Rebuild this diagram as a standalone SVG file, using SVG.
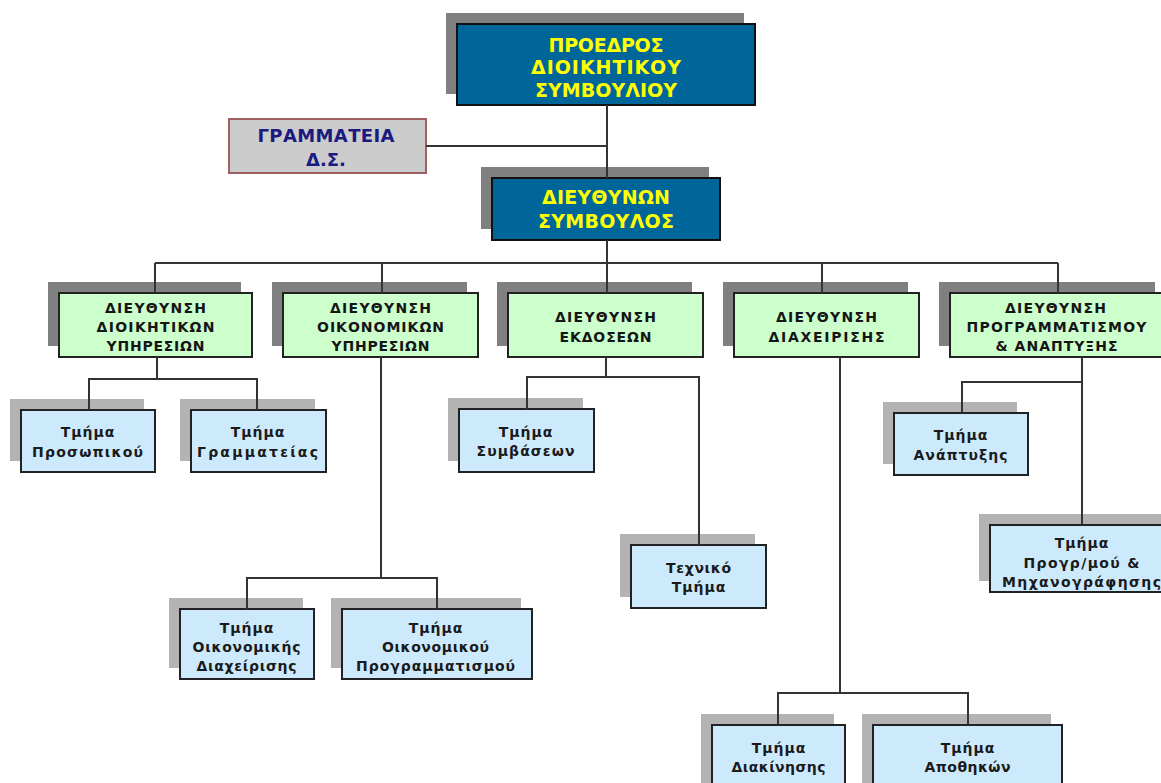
<svg xmlns="http://www.w3.org/2000/svg" width="1161" height="783" viewBox="0 0 1161 783">
<style>
.sh1{fill:#808080}
.sh2{fill:#b3b3b3}
.top{fill:#006699;stroke:#111;stroke-width:2}
.dir{fill:#ccffcc;stroke:#222;stroke-width:2}
.dep{fill:#cdeafd;stroke:#222;stroke-width:2}
.sec{fill:#cccccc;stroke:#a06060;stroke-width:2}
.tt{font-family:"DejaVu Sans","Liberation Sans",sans-serif;font-weight:bold;font-size:19px;fill:#ffff00;text-anchor:middle}
.ts{font-family:"DejaVu Sans","Liberation Sans",sans-serif;font-weight:bold;font-size:18px;fill:#1a1a80;text-anchor:middle}
.td{font-family:"DejaVu Sans","Liberation Sans",sans-serif;font-weight:bold;font-size:14px;fill:#151515;text-anchor:middle;letter-spacing:1px}
.tp{font-family:"DejaVu Sans","Liberation Sans",sans-serif;font-weight:bold;font-size:14px;fill:#1a1a1a;text-anchor:middle;letter-spacing:1px}
.ln{fill:none;stroke:#333;stroke-width:2}
</style>
<rect width="1161" height="783" fill="#ffffff"/>

<g id="president">
<rect class="sh1" x="446" y="13" width="298" height="81"/>
<rect class="top" x="457" y="24" width="298" height="81"/>
<text class="tt" x="606" y="52" textLength="115">ΠΡΟΕΔΡΟΣ</text>
<text class="tt" x="606" y="74" textLength="150">ΔΙΟΙΚΗΤΙΚΟΥ</text>
<text class="tt" x="606" y="97" textLength="142">ΣΥΜΒΟΥΛΙΟΥ</text>
</g>

<g id="secretariat">
<rect class="sec" x="229" y="119" width="197" height="54"/>
<text class="ts" x="326" y="142" textLength="137">ΓΡΑΜΜΑΤΕΙΑ</text>
<text class="ts" x="326" y="166">Δ.Σ.</text>
</g>

<g id="ceo">
<rect class="sh1" x="481" y="167" width="228" height="62"/>
<rect class="top" x="492" y="178" width="228" height="62"/>
<text class="tt" x="606" y="204" textLength="128">ΔΙΕΥΘΥΝΩΝ</text>
<text class="tt" x="606" y="228" textLength="136">ΣΥΜΒΟΥΛΟΣ</text>
</g>

<g id="dir-admin">
<rect class="sh1" x="48" y="282" width="193" height="64"/>
<rect class="dir" x="59" y="293" width="193" height="64"/>
<text class="td" x="156" y="313" textLength="102">ΔΙΕΥΘΥΝΣΗ</text>
<text class="td" x="156" y="332" textLength="119">ΔΙΟΙΚΗΤΙΚΩΝ</text>
<text class="td" x="156" y="351" textLength="99">ΥΠΗΡΕΣΙΩΝ</text>
</g>

<g id="dir-fin">
<rect class="sh1" x="272" y="282" width="195" height="64"/>
<rect class="dir" x="283" y="293" width="195" height="64"/>
<text class="td" x="381" y="313" textLength="102">ΔΙΕΥΘΥΝΣΗ</text>
<text class="td" x="381" y="332" textLength="128">ΟΙΚΟΝΟΜΙΚΩΝ</text>
<text class="td" x="381" y="351" textLength="99">ΥΠΗΡΕΣΙΩΝ</text>
</g>

<g id="dir-pub">
<rect class="sh1" x="497" y="282" width="195" height="64"/>
<rect class="dir" x="508" y="293" width="195" height="64"/>
<text class="td" x="606" y="322" textLength="102">ΔΙΕΥΘΥΝΣΗ</text>
<text class="td" x="606" y="342" textLength="93">ΕΚΔΟΣΕΩΝ</text>
</g>

<g id="dir-mgmt">
<rect class="sh1" x="723" y="282" width="185" height="64"/>
<rect class="dir" x="734" y="293" width="185" height="64"/>
<text class="td" x="827" y="322" textLength="102">ΔΙΕΥΘΥΝΣΗ</text>
<text class="td" x="827" y="342" textLength="117">ΔΙΑΧΕΙΡΙΣΗΣ</text>
</g>

<g id="dir-plan">
<rect class="sh1" x="939" y="282" width="216" height="64"/>
<rect class="dir" x="950" y="293" width="216" height="64"/>
<text class="td" x="1056" y="313" textLength="102">ΔΙΕΥΘΥΝΣΗ</text>
<text class="td" x="1057" y="332" textLength="181">ΠΡΟΓΡΑΜΜΑΤΙΣΜΟΥ</text>
<text class="td" x="1057" y="351" textLength="123">&amp; ΑΝΑΠΤΥΞΗΣ</text>
</g>

<g id="dep-personnel">
<rect class="sh2" x="10" y="399" width="134" height="62"/>
<rect class="dep" x="21" y="410" width="134" height="62"/>
<text class="tp" x="88" y="437">Τμήμα</text>
<text class="tp" x="88" y="457" textLength="112">Προσωπικού</text>
</g>

<g id="dep-secretariat">
<rect class="sh2" x="180" y="399" width="135" height="62"/>
<rect class="dep" x="191" y="410" width="135" height="62"/>
<text class="tp" x="258" y="437">Τμήμα</text>
<text class="tp" x="258" y="457" textLength="122">Γραμματείας</text>
</g>

<g id="dep-contracts">
<rect class="sh2" x="448" y="398" width="135" height="63"/>
<rect class="dep" x="459" y="409" width="135" height="63"/>
<text class="tp" x="526" y="437">Τμήμα</text>
<text class="tp" x="526" y="456" textLength="99">Συμβάσεων</text>
</g>

<g id="dep-development">
<rect class="sh2" x="883" y="402" width="134" height="62"/>
<rect class="dep" x="894" y="413" width="134" height="62"/>
<text class="tp" x="961" y="440">Τμήμα</text>
<text class="tp" x="961" y="460" textLength="95">Ανάπτυξης</text>
</g>

<g id="dep-technical">
<rect class="sh2" x="620" y="534" width="135" height="63"/>
<rect class="dep" x="631" y="545" width="135" height="63"/>
<text class="tp" x="699" y="573" textLength="66">Τεχνικό</text>
<text class="tp" x="699" y="592">Τμήμα</text>
</g>

<g id="dep-computing">
<rect class="sh2" x="979" y="514" width="184" height="67"/>
<rect class="dep" x="990" y="525" width="184" height="67"/>
<text class="tp" x="1082" y="548">Τμήμα</text>
<text class="tp" x="1082" y="568" textLength="117">Προγρ/μού &amp;</text>
<text class="tp" x="1082" y="587" textLength="160">Μηχανογράφησης</text>
</g>

<g id="dep-fin-mgmt">
<rect class="sh2" x="169" y="598" width="134" height="70"/>
<rect class="dep" x="180" y="609" width="134" height="70"/>
<text class="tp" x="247" y="633">Τμήμα</text>
<text class="tp" x="247" y="652" textLength="109">Οικονομικής</text>
<text class="tp" x="247" y="671" textLength="101">Διαχείρισης</text>
</g>

<g id="dep-fin-plan">
<rect class="sh2" x="331" y="598" width="190" height="70"/>
<rect class="dep" x="342" y="609" width="190" height="70"/>
<text class="tp" x="436" y="633">Τμήμα</text>
<text class="tp" x="436" y="652" textLength="108">Οικονομικού</text>
<text class="tp" x="436" y="671" textLength="160">Προγραμματισμού</text>
</g>

<g id="dep-distribution">
<rect class="sh2" x="701" y="714" width="133" height="80"/>
<rect class="dep" x="712" y="725" width="133" height="80"/>
<text class="tp" x="779" y="753">Τμήμα</text>
<text class="tp" x="779" y="772" textLength="95">Διακίνησης</text>
</g>

<g id="dep-warehouses">
<rect class="sh2" x="862" y="714" width="189" height="80"/>
<rect class="dep" x="873" y="725" width="189" height="80"/>
<text class="tp" x="968" y="753">Τμήμα</text>
<text class="tp" x="968" y="772" textLength="87">Αποθηκών</text>
</g>

<g id="connectors" class="ln">
<path d="M607 105 V178"/>
<path d="M426 146 H607"/>
<path d="M607 240 V293"/>
<path d="M155 263 H1058"/>
<path d="M155 263 V293"/>
<path d="M382 263 V293"/>
<path d="M822 263 V293"/>
<path d="M1058 263 V293"/>
<path d="M157 357 V379 M89 410 V379 H257 V410"/>
<path d="M381 357 V578 M247 609 V578 H437 V609"/>
<path d="M606 357 V377 M527 409 V377 H699 V545"/>
<path d="M840 357 V693 M778 725 V693 H968 V725"/>
<path d="M1082 357 V525 M962 413 V382 H1082"/>
</g>
</svg>
